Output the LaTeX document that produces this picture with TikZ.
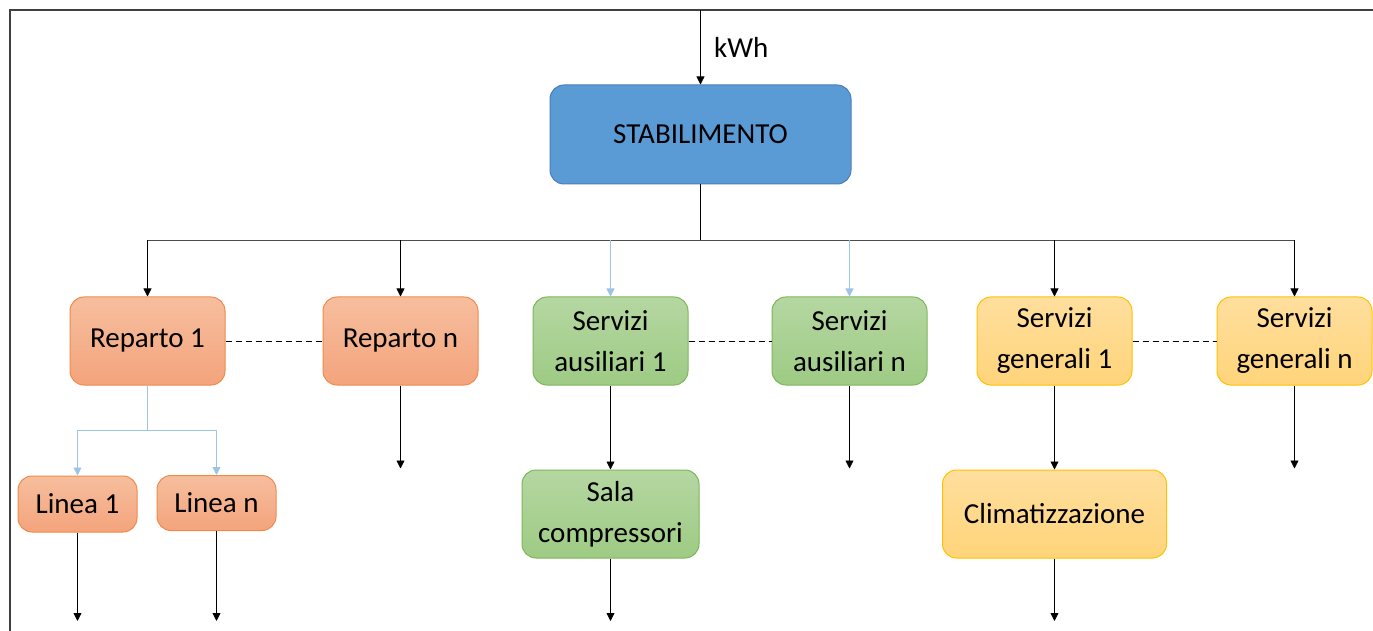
\documentclass[tikz,border=0pt]{standalone}
\usepackage{fontspec}
\setmainfont{Carlito}
\usetikzlibrary{arrows.meta,positioning}

\definecolor{blueFill}{HTML}{5B9BD5}
\definecolor{blueLine}{HTML}{4A7EBB}
\definecolor{orTop}{HTML}{F6BE9E}
\definecolor{orBot}{HTML}{F4A47C}
\definecolor{orLine}{HTML}{F08A4B}
\definecolor{grTop}{HTML}{B5D7A2}
\definecolor{grBot}{HTML}{9ECB84}
\definecolor{grLine}{HTML}{7DB65A}
\definecolor{yeTop}{HTML}{FFDF9E}
\definecolor{yeBot}{HTML}{FFD47A}
\definecolor{yeLine}{HTML}{FFC000}
\definecolor{lightArrow}{HTML}{9DC3E6}

\tikzset{
	every box/.style={rounded corners=7pt, line width=0.5pt, align=center,
		font=\fontsize{14.5}{20.5}\selectfont, inner sep=0pt},
	blue box/.style={every box, fill=blueFill, draw=blueLine},
	orange box/.style={every box, top color=orTop, bottom color=orBot, draw=orLine},
	green box/.style={every box, top color=grTop, bottom color=grBot, draw=grLine},
	yellow box/.style={every box, top color=yeTop, bottom color=yeBot, draw=yeLine},
	light/.style={draw=lightArrow}
}

\begin{document}
\begin{tikzpicture}[x=0.5pt, y=-0.5pt, >={Triangle[length=4pt,width=4pt]}, line width=0.4pt]
	\useasboundingbox (0,0) rectangle (1373,631);
	
	% frame
	\draw [black!75, line width=0.8pt] (1373,10) -- (10,10) -- (10,631);
	
	\node [blue box, minimum width=150.5pt, minimum height=49.5pt] (stab) at (700.5,134.5) {STABILIMENTO};
	\draw [->] (stab.north |- 0,10) -- (stab.north);
	\node [font=\fontsize{14.5}{17}\selectfont, anchor=west] (kwh) at (707,47) {kWh};
	
	% first level
	\foreach \n/\x/\s/\t in {rep-1/147.5/orange/{Reparto 1}, rep-n/400.5/orange/{Reparto n},
		aus-1/610.5/green/{Servizi\\ausiliari 1}, aus-n/849.5/green/{Servizi\\ausiliari n},
		gen-1/1054.5/yellow/{Servizi\\generali 1}, gen-n/1294.5/yellow/{Servizi\\generali n}}
	\node [\s\space box, minimum width=77.5pt, minimum height=44pt] (\n) at (\x,341) {\t};
	
	\draw (stab.south) -- ++(0,56) coordinate (bus);
	\draw [black!70, line width=0.8pt] (rep-1.north |- bus) -- (gen-n.north |- bus);
	
	\foreach \n in {rep-1,rep-n,gen-1,gen-n}
	\draw [->] (\n.north |- bus) -- (\n.north);
	
	\foreach \n in {aus-1,aus-n}
	\draw [->, light] (\n.north |- bus) -- (\n.north);
	
	\foreach \a/\b in {rep-1/rep-n, aus-1/aus-n, gen-1/gen-n}
	\draw [dashed, dash pattern=on 3pt off 2pt] (\a.east) -- (\b.west);
	
	% second level
	\node [orange box, minimum width=59.5pt, minimum height=28pt] (lin-1) at (77.5,504) {Linea 1};
	\node [orange box, minimum width=59.5pt, minimum height=27.5pt] (lin-n) at (216.5,503) {Linea n};
	\node [green box, minimum width=88.5pt, minimum height=44pt] (sala) at (610.5,514) {Sala\\compressori};
	\node [yellow box, minimum width=112pt, minimum height=44pt] (clima) at (1054.5,514) {Climatizzazione};
	
	\draw [light] (rep-1.south) -- ++(0,45) coordinate (fork);
	\draw [->, light] (fork) -| (lin-1.north);
	\draw [->, light] (fork) -| (lin-n.north);
	
	\draw [->] (aus-1.south) -- (sala.north);
	\draw [->] (gen-1.south) -- (clima.north);
	
	% open outputs
	\foreach \n in {rep-n,aus-n,gen-n}
	\draw [->] (\n.south) -- ++(0,83);
	
	\foreach \n in {lin-1,lin-n,sala,clima}
	\draw [->] (\n.south) -- (\n.south |- 0,621);
\end{tikzpicture}
\end{document}
